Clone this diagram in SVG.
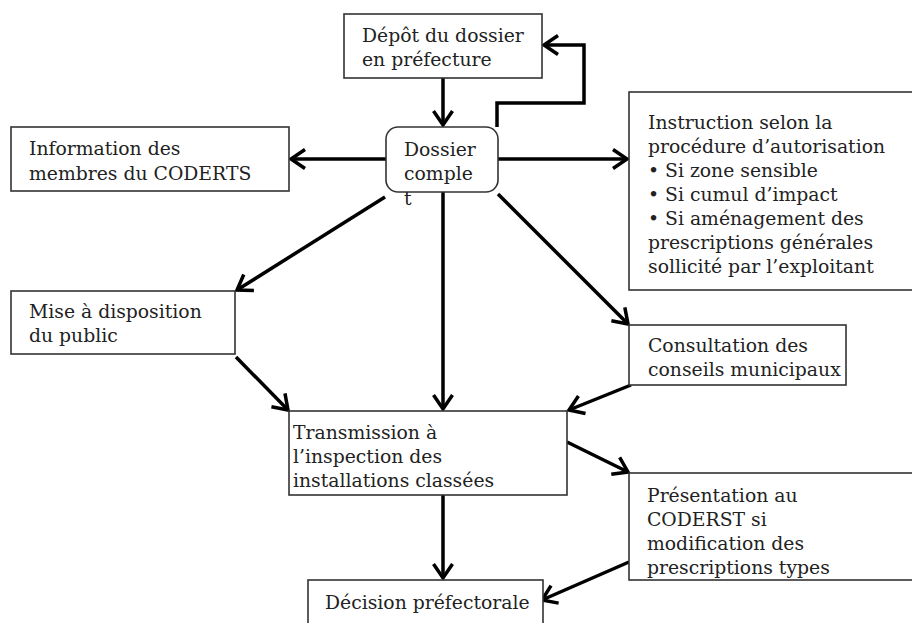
<svg xmlns="http://www.w3.org/2000/svg" width="912" height="623" viewBox="0 0 912 623">
<style>
.box{fill:#fff;stroke:#333;stroke-width:1.6}
.t{font-family:"DejaVu Serif","Liberation Serif",serif;font-size:18.8px;fill:#222}
.c{fill:none;stroke:#000;stroke-width:3.5;stroke-linejoin:miter}
</style>
<defs>
<marker id="ah" markerUnits="userSpaceOnUse" markerWidth="24" markerHeight="24" refX="17" refY="12" orient="auto" viewBox="0 0 24 24">
<path d="M3,2.5 L17,12 L3,21.5" fill="none" stroke="#000" stroke-width="3.5"/>
</marker>
</defs>
<rect width="912" height="623" fill="#fff"/>
<g id="connectors">
<line class="c" x1="443" y1="78" x2="443" y2="125" marker-end="url(#ah)"/>
<polyline class="c" points="497,127 497,103 584,103 584,45 544,45" marker-end="url(#ah)"/>
<line class="c" x1="386" y1="159" x2="291" y2="159" marker-end="url(#ah)"/>
<line class="c" x1="498" y1="159" x2="627" y2="159" marker-end="url(#ah)"/>
<line class="c" x1="385" y1="197" x2="237" y2="290" marker-end="url(#ah)"/>
<line class="c" x1="443" y1="192" x2="443" y2="409" marker-end="url(#ah)"/>
<line class="c" x1="498" y1="194" x2="628" y2="324" marker-end="url(#ah)"/>
<line class="c" x1="236" y1="357" x2="288" y2="410" marker-end="url(#ah)"/>
<line class="c" x1="631" y1="385" x2="569" y2="410" marker-end="url(#ah)"/>
<line class="c" x1="567" y1="442" x2="628" y2="472" marker-end="url(#ah)"/>
<line class="c" x1="443" y1="495" x2="443" y2="578" marker-end="url(#ah)"/>
<line class="c" x1="629" y1="562" x2="542" y2="600" marker-end="url(#ah)"/>
</g>
<g id="depot">
<rect class="box" x="344" y="14" width="198" height="64"/>
<text class="t" x="362" y="42">Dépôt du dossier</text>
<text class="t" x="362" y="66">en préfecture</text>
</g>
<g id="dossier">
<rect class="box" x="386" y="127" width="112" height="65" rx="12" ry="12"/>
<text class="t" x="404" y="156">Dossier</text>
<text class="t" x="404" y="180">comple</text>
<text class="t" x="404" y="205">t</text>
</g>
<g id="information">
<rect class="box" x="11" y="127" width="278" height="64"/>
<text class="t" x="29" y="155">Information des</text>
<text class="t" x="29" y="180">membres du CODERTS</text>
</g>
<g id="instruction">
<rect class="box" x="629" y="92" width="285" height="198"/>
<text class="t" x="648" y="129">Instruction selon la</text>
<text class="t" x="648" y="153">procédure d’autorisation</text>
<text class="t" x="648" y="177">• Si zone sensible</text>
<text class="t" x="648" y="201">• Si cumul d’impact</text>
<text class="t" x="648" y="225">• Si aménagement des</text>
<text class="t" x="648" y="249">prescriptions générales</text>
<text class="t" x="648" y="273">sollicité par l’exploitant</text>
</g>
<g id="mise">
<rect class="box" x="11" y="291" width="224" height="63"/>
<text class="t" x="29" y="318">Mise à disposition</text>
<text class="t" x="29" y="342">du public</text>
</g>
<g id="consultation">
<rect class="box" x="629" y="325" width="217" height="60"/>
<text class="t" x="648" y="352">Consultation des</text>
<text class="t" x="648" y="376">conseils municipaux</text>
</g>
<g id="transmission">
<rect class="box" x="289" y="411" width="278" height="84"/>
<text class="t" x="293" y="439">Transmission à</text>
<text class="t" x="293" y="463">l’inspection des</text>
<text class="t" x="293" y="487">installations classées</text>
</g>
<g id="presentation">
<rect class="box" x="629" y="473" width="285" height="107"/>
<text class="t" x="647" y="502">Présentation au</text>
<text class="t" x="647" y="526">CODERST si</text>
<text class="t" x="647" y="550">modification des</text>
<text class="t" x="647" y="574">prescriptions types</text>
</g>
<g id="decision">
<rect class="box" x="308" y="580" width="235" height="50"/>
<text class="t" x="325" y="609">Décision préfectorale</text>
</g>
</svg>
